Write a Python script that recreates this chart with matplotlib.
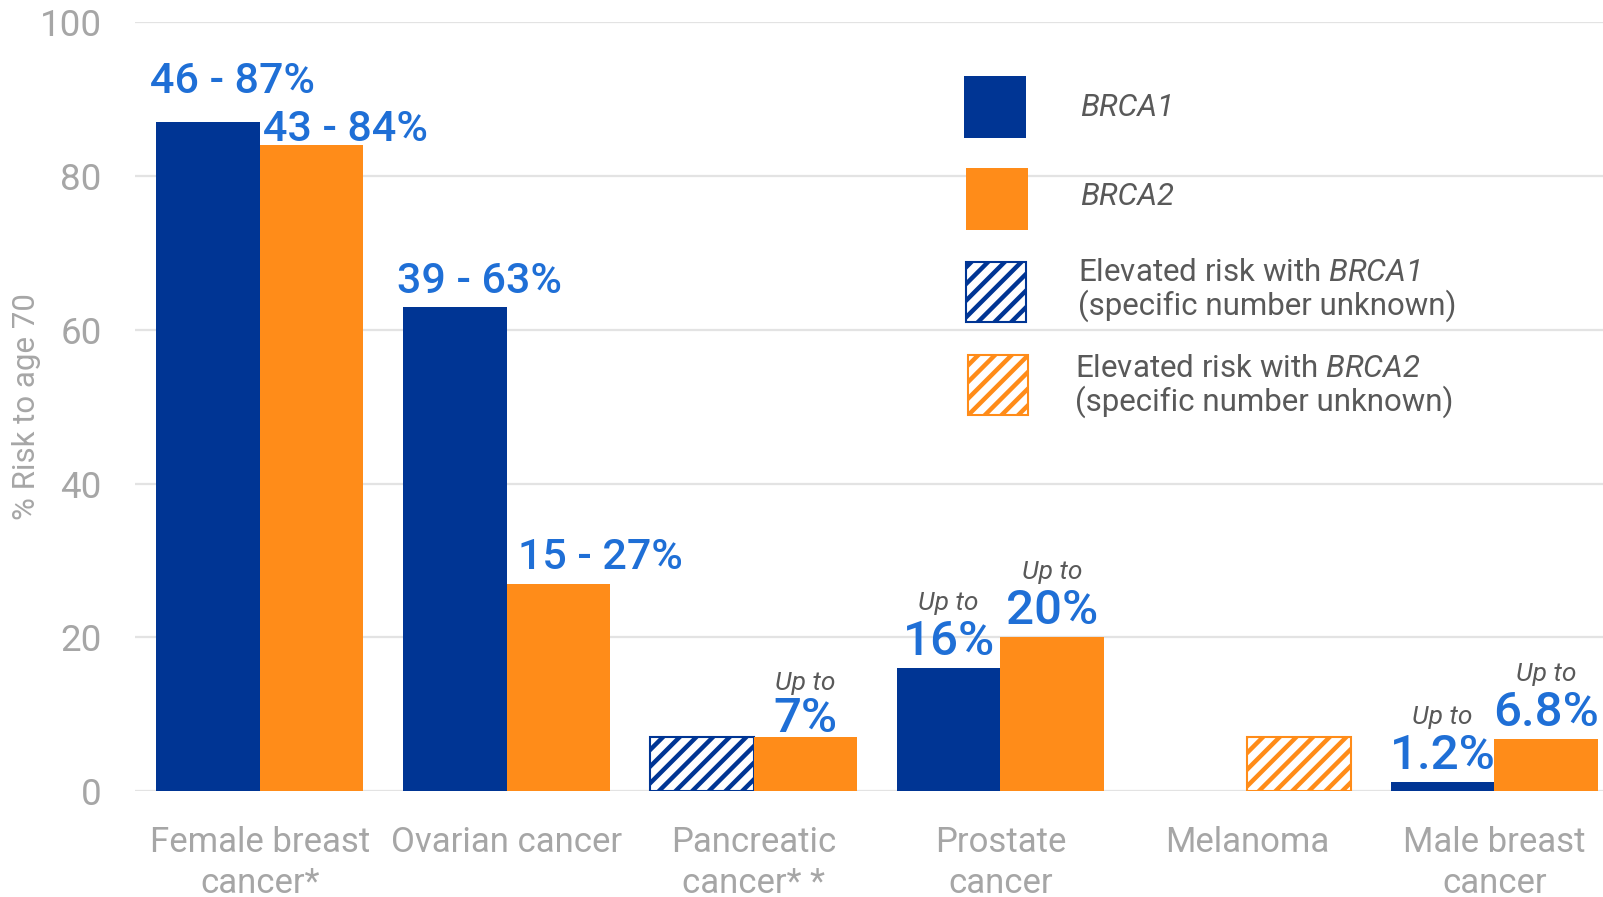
# BRCA1 / BRCA2 cancer risk to age 70 - grouped bar chart
import numpy as np
import matplotlib.pyplot as plt
from matplotlib.patches import Rectangle

# =========================
# DATA
# =========================
CATEGORIES = ["Female breast\ncancer*", "Ovarian cancer", "Pancreatic\ncancer* *",
              "Prostate\ncancer", "Melanoma", "Male breast\ncancer"]
BRCA1 = [87, 63, 7, 16, np.nan, 1.2]
BRCA2 = [84, 27, 7, 20, 7, 6.8]
BRCA1_HATCHED = [False, False, True, False, False, False]
BRCA2_HATCHED = [False, False, False, False, True, False]
BRCA1_TEXT = ["46 - 87%", "39 - 63%", "", "16%", "", "1.2%"]
BRCA2_TEXT = ["43 - 84%", "15 - 27%", "7%", "20%", "", "6.8%"]
BRCA1_UPTO = [False, False, False, True, False, True]
BRCA2_UPTO = [False, False, True, True, False, True]
Y_TICKS = [0, 20, 40, 60, 80, 100]
LEGEND_LABELS = [
    "BRCA1",
    "BRCA2",
    "Elevated risk with $\\mathit{BRCA1}$\n(specific number unknown)",
    "Elevated risk with $\\mathit{BRCA2}$\n(specific number unknown)",
]

# =========================
# STYLE
# =========================
BLUE = "#003594"
ORANGE = "#FF8C19"
LABEL_BLUE = "#1F6FD6"
GREY = "#A6A6A6"
DARK_GREY = "#595959"
GRID = "#E3E3E3"
WIDTH = 0.42
PX = 0.72  # points per pixel at dpi 100
FIG_W, FIG_H = 1603, 897
AX_LEFT, AX_TOP, AX_BOTTOM = 135, 22.5, 791

# offsets (px) for range labels: left edge of bar -> text left/baseline
RANGE_OFFSETS = {(0, 0): (-6, 29), (1, 0): (3, 4), (0, 1): (-6, 14), (1, 1): (11, 15)}
# offsets (px) for "Up to" labels: (value baseline, "Up to" baseline) above bar top
UPTO_OFFSETS = {(1, 2): (5, 47)}
UPTO_DEFAULT = (13, 58)

plt.rcParams["font.family"] = ["Roboto", "DejaVu Sans"]
plt.rcParams["mathtext.fontset"] = "custom"
plt.rcParams["mathtext.it"] = "Roboto:italic"
plt.rcParams["mathtext.rm"] = "Roboto:italic"  # only used for the gene names (digits)
plt.rcParams["hatch.linewidth"] = 3.2

fig = plt.figure(figsize=(FIG_W / 100, FIG_H / 100), dpi=100)
ax = fig.add_axes([AX_LEFT / FIG_W, (FIG_H - AX_BOTTOM) / FIG_H,
                   1 - AX_LEFT / FIG_W, (AX_BOTTOM - AX_TOP) / FIG_H])

X = np.arange(len(CATEGORIES))

for SERIES, (VALUES, HATCHED, COLOR, SHIFT) in enumerate(
        [(BRCA1, BRCA1_HATCHED, BLUE, -WIDTH / 2), (BRCA2, BRCA2_HATCHED, ORANGE, WIDTH / 2)]):
    for I, V in enumerate(VALUES):
        if np.isnan(V):
            continue
        if HATCHED[I]:
            ax.bar(X[I] + SHIFT, V, WIDTH, facecolor="white", edgecolor=COLOR,
                   hatch="//", linewidth=1.5, zorder=3)
        else:
            ax.bar(X[I] + SHIFT, V, WIDTH, color=COLOR, linewidth=0, zorder=3)

# =========================
# VALUE LABELS
# =========================
for SERIES, (VALUES, TEXTS, UPTO, SHIFT) in enumerate(
        [(BRCA1, BRCA1_TEXT, BRCA1_UPTO, -WIDTH / 2), (BRCA2, BRCA2_TEXT, BRCA2_UPTO, WIDTH / 2)]):
    for I, T in enumerate(TEXTS):
        if not T:
            continue
        V = VALUES[I]
        if UPTO[I]:
            DY_VAL, DY_UP = UPTO_OFFSETS.get((SERIES, I), UPTO_DEFAULT)
            ax.annotate(T, xy=(X[I] + SHIFT, V), xytext=(0, DY_VAL * PX),
                        textcoords="offset points", ha="center", va="baseline",
                        fontsize=35.5, color=LABEL_BLUE, fontweight="medium", zorder=4)
            ax.annotate("Up to", xy=(X[I] + SHIFT, V), xytext=(0, DY_UP * PX),
                        textcoords="offset points", ha="center", va="baseline",
                        fontsize=19, color=DARK_GREY, fontstyle="italic", zorder=4)
        else:
            DX, DY = RANGE_OFFSETS[(SERIES, I)]
            ax.annotate(T, xy=(X[I] + SHIFT - WIDTH / 2, V), xytext=(DX * PX, DY * PX),
                        textcoords="offset points", ha="left", va="baseline",
                        fontsize=31, color=LABEL_BLUE, fontweight="medium", zorder=4)

# =========================
# AXES
# =========================
ax.set_xlim(-0.505, 5.44)
ax.set_ylim(0, 100)
ax.set_yticks(Y_TICKS)
ax.set_xticks(X)
ax.set_xticklabels(CATEGORIES, linespacing=1.3)
ax.tick_params(axis="x", length=0, pad=25, labelsize=25, labelcolor=GREY)
ax.tick_params(axis="y", length=0, pad=24, labelsize=26.5, labelcolor=GREY)
ax.grid(axis="y", color=GRID, linewidth=1.6, zorder=0)
ax.set_axisbelow(True)
for S in ax.spines.values():
    S.set_visible(False)
ax.set_ylabel("% Risk to age 70", fontsize=22.5, color=GREY)
ax.yaxis.set_label_coords(-0.064, 0.5)

# =========================
# LEGEND (drawn by hand, pixel layout from the reference)
# =========================
LEGEND_HANDLES = [(BLUE, False), (ORANGE, False), (BLUE, True), (ORANGE, True)]
SQUARE_X = [964, 966, 966, 968]
SQUARE_Y = [107, 199, 292, 385]
TEXT_X = [1080, 1080, 1078, 1075]
TEXT_Y = [107, 196, 290, 386]
for (COLOR, HATCH), SX, SY, TX, TY, LBL in zip(LEGEND_HANDLES, SQUARE_X, SQUARE_Y,
                                                TEXT_X, TEXT_Y, LEGEND_LABELS):
    if HATCH:
        SQ = Rectangle((SX / FIG_W, 1 - (SY + 30) / FIG_H), 60 / FIG_W, 60 / FIG_H,
                       transform=fig.transFigure, facecolor="white", edgecolor=COLOR,
                       hatch="//", linewidth=1.5)
    else:
        SQ = Rectangle((SX / FIG_W, 1 - (SY + 31) / FIG_H), 62 / FIG_W, 62 / FIG_H,
                       transform=fig.transFigure, facecolor=COLOR, edgecolor=COLOR,
                       linewidth=0)
    fig.patches.append(SQ)
    fig.text(TX / FIG_W, 1 - TY / FIG_H, LBL, fontsize=22.5, color=DARK_GREY,
             ha="left", va="center", linespacing=1.1,
             fontstyle="normal" if HATCH else "italic")

fig.savefig("out.png", dpi=100)
